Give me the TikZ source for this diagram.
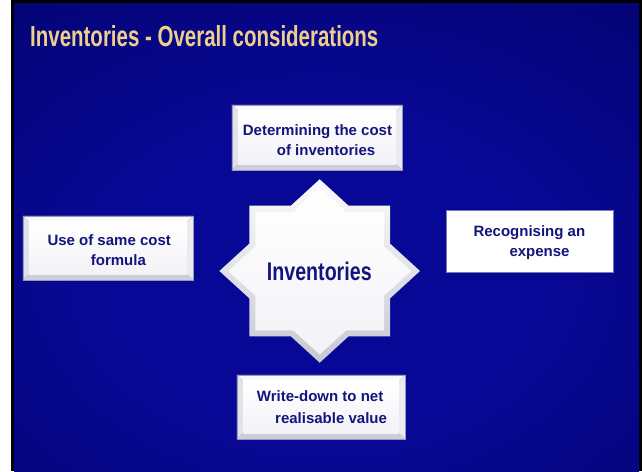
\documentclass[tikz,border=0pt]{standalone}
\usepackage{graphicx}
\usepackage{fontspec}
\setmainfont{Liberation Sans}
\usetikzlibrary{calc}

% slide palette
\definecolor{slidenavy}{RGB}{0,0,84}
\definecolor{slideglow}{RGB}{8,8,150}
\definecolor{titletan}{RGB}{238,208,140}
\definecolor{labelnavy}{RGB}{20,20,125}
\definecolor{bevtop}{RGB}{248,248,251}
\definecolor{bevleft}{RGB}{226,226,234}
\definecolor{bevright}{RGB}{234,234,240}
\definecolor{bevbottom}{RGB}{206,206,216}
\definecolor{bevinner}{RGB}{243,243,247}
\definecolor{bevedge}{RGB}{150,150,190}
\definecolor{flatedge}{RGB}{120,120,188}
\definecolor{starshadow}{RGB}{200,200,212}

% soft glow behind the centre of the slide
\pgfdeclareradialshading{slidebg}{\pgfpoint{0bp}{0bp}}{color(0bp)=(slideglow); color(14bp)=(slideglow); color(50bp)=(slidenavy)}

% raised (bevelled) look for a rectangular node
\newcommand\bevelframe[1]{%
  \fill[bevtop] (#1.north west) -- (#1.north east) -- ([shift={(-6pt,-6pt)}]#1.north east) -- ([shift={(6pt,-6pt)}]#1.north west) -- cycle;
  \fill[bevbottom] (#1.south west) -- (#1.south east) -- ([shift={(-6pt,6pt)}]#1.south east) -- ([shift={(6pt,6pt)}]#1.south west) -- cycle;
  \fill[bevleft] (#1.north west) -- ([shift={(6pt,-6pt)}]#1.north west) -- ([shift={(6pt,6pt)}]#1.south west) -- (#1.south west) -- cycle;
  \fill[bevright] (#1.north east) -- ([shift={(-6pt,-6pt)}]#1.north east) -- ([shift={(-6pt,6pt)}]#1.south east) -- (#1.south east) -- cycle;
  \shade[top color=white, bottom color=bevinner] ([shift={(6pt,-6pt)}]#1.north west) rectangle ([shift={(-6pt,6pt)}]#1.south east);
  \draw[bevedge, line width=0.6pt] (#1.north west) rectangle (#1.south east);
}

\begin{document}
\begin{tikzpicture}[x=1pt, y=-1pt,
  boxframe/.style={rectangle, inner sep=0pt, draw=none},
  flatbox/.style={rectangle, inner sep=0pt, fill=white, draw=flatedge, line width=0.8pt},
  labeltext/.style={text=labelnavy, inner sep=0pt, anchor=base west, font=\fontsize{15}{20}\selectfont\bfseries},
  titletext/.style={text=titletan, inner sep=0pt, anchor=base west}]
\useasboundingbox (0,0) rectangle (642,471);

% page, frame and slide background
\fill[white] (0,0) rectangle (642,471);
\fill[black] (11,0) rectangle (642,471);
\begin{scope}
  \clip (14,3) rectangle (639,471);
  \fill[slidenavy] (14,3) rectangle (639,471);
  \shade[shading=slidebg] (-75,0) rectangle (725,560);
\end{scope}

% title
\node[titletext] (title) at (30,46.7)
  {\scalebox{0.706}[1]{\fontsize{29}{29}\selectfont\bfseries Inventories - Overall considerations}};

% the four satellite boxes
\node[boxframe, minimum width=170pt, minimum height=65pt] (costbox) at (317,137.5) {};
\bevelframe{costbox}
\node[boxframe, minimum width=170pt, minimum height=64pt] (formulabox) at (108,248) {};
\bevelframe{formulabox}
\node[boxframe, minimum width=168pt, minimum height=64pt] (nrvbox) at (321,407) {};
\bevelframe{nrvbox}
\node[flatbox, minimum width=167pt, minimum height=62pt] (expensebox) at (529.5,241) {};

% central eight-pointed star: union of a square and a diamond
\coordinate (starcentre) at (319.7,271);
\begin{scope}[shift={(starcentre)}]
  \shade[top color=white!96!bevedge, bottom color=starshadow]
    (-70.3,-65.3) -- (70.3,-65.3) -- (70.3,65.3) -- (-70.3,65.3) -- cycle
    (0,-91.7) -- (100.3,0) -- (0,91.7) -- (-100.3,0) -- cycle;
  \shade[top color=white, bottom color=bevinner]
    (-64.3,-59.3) -- (64.3,-59.3) -- (64.3,59.3) -- (-64.3,59.3) -- cycle
    (0,-83.5) -- (91.4,0) -- (0,83.5) -- (-91.4,0) -- cycle;
\end{scope}
\node[text=labelnavy, inner sep=0pt, anchor=base] (inventories) at (319.3,280)
  {\scalebox{0.77}[1]{\fontsize{25.5}{25.5}\selectfont\bfseries Inventories}};

% box labels
\node[labeltext] (costtext) at (242.7,135)
  {\begin{tabular}[t]{@{}l@{}}Determining the cost\\\hspace*{34pt}of inventories\end{tabular}};
\node[labeltext] (formulatext) at (47.3,245.7)
  {\begin{tabular}[t]{@{}l@{}}Use of same cost\\\hspace*{43.4pt}formula\end{tabular}};
\node[labeltext] (expensetext) at (473.3,236.7)
  {\begin{tabular}[t]{@{}l@{}}Recognising an\\\hspace*{36pt}expense\end{tabular}};
\node[labeltext] (nrvtext) at (256.7,401.7)
  {\begin{tabular}[t]{@{}l@{}}Write-down to net\\[1.6pt]\hspace*{18.3pt}realisable value\end{tabular}};
\end{tikzpicture}
\end{document}
